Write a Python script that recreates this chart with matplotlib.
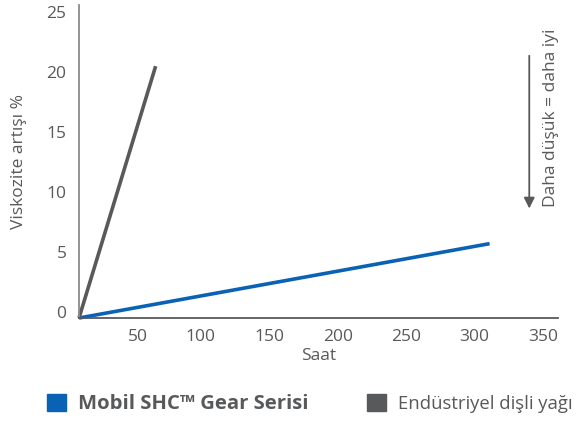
import matplotlib
matplotlib.use('Agg')
import matplotlib.pyplot as plt
from matplotlib.patches import Patch

# data
hours_shc = [0, 300]
visc_shc = [0, 6.2]
hours_ind = [0, 56]
visc_ind = [0, 21.0]
series_names = ['Mobil SHC™ Gear Serisi', 'Endüstriyel dişli yağı']
series_colors = ['#0a62b4', '#58595b']
x_ticks = [50, 100, 150, 200, 250, 300, 350]
y_ticks = [0, 5, 10, 15, 20, 25]

TEXT = '#58595b'
plt.rcParams['font.family'] = ['Open Sans', 'DejaVu Sans']

fig = plt.figure(figsize=(5.84, 4.24), dpi=100)
ax = fig.add_axes([79 / 584, 1 - 318 / 424, (558 - 79) / 584, (318 - 5) / 424])

ax.plot(hours_shc, visc_shc, color=series_colors[0], lw=2.6,
        solid_capstyle='butt', clip_on=False)
ax.plot(hours_ind, visc_ind, color=series_colors[1], lw=2.6,
        solid_capstyle='butt', clip_on=False)

ax.set_xlim(0, 350)
ax.set_ylim(0, 26.1)
ax.set_xticks(x_ticks)
ax.set_yticks(y_ticks)
ax.set_xticklabels([str(t) for t in x_ticks], ha='right')
ax.set_yticklabels([str(t) for t in y_ticks], va='baseline')
ax.tick_params(length=0, labelsize=12.5, colors=TEXT)
ax.tick_params(axis='x', pad=8)
ax.tick_params(axis='y', pad=9)

for side in ('top', 'right'):
    ax.spines[side].set_visible(False)
ax.spines['left'].set_color('#8a8a8a')
ax.spines['left'].set_linewidth(1.3)
ax.spines['bottom'].set_color('#58595b')
ax.spines['bottom'].set_linewidth(1.3)

ax.set_xlabel('Saat', fontsize=12.5, color=TEXT, labelpad=2)
ax.set_ylabel('Viskozite artışı %', fontsize=12.5, color=TEXT, labelpad=14)

ax.annotate('', xy=(329, 8.9), xytext=(329, 22.1),
            arrowprops=dict(arrowstyle='-|>', color='#58595b', lw=1.3,
                            mutation_scale=16))
ax.text(345, 9.25, 'Daha düşük = daha iyi', rotation=90, ha='center',
        va='bottom', fontsize=12.5, color=TEXT)

handles = [Patch(color=c) for c in series_colors]
leg = fig.legend(handles, series_names, loc='center left',
                 bbox_to_anchor=(47 / 584, 1 - 404 / 424), ncol=2,
                 frameon=False, fontsize=14.6, borderpad=0, borderaxespad=0,
                 handlelength=0.94, handleheight=0.94, handletextpad=0.6,
                 columnspacing=2.85)
for t in leg.get_texts():
    t.set_color(TEXT)
leg.get_texts()[0].set_fontweight('bold')
leg.get_texts()[1].set_fontsize(13.3)

fig.savefig('out.png', dpi=100)
